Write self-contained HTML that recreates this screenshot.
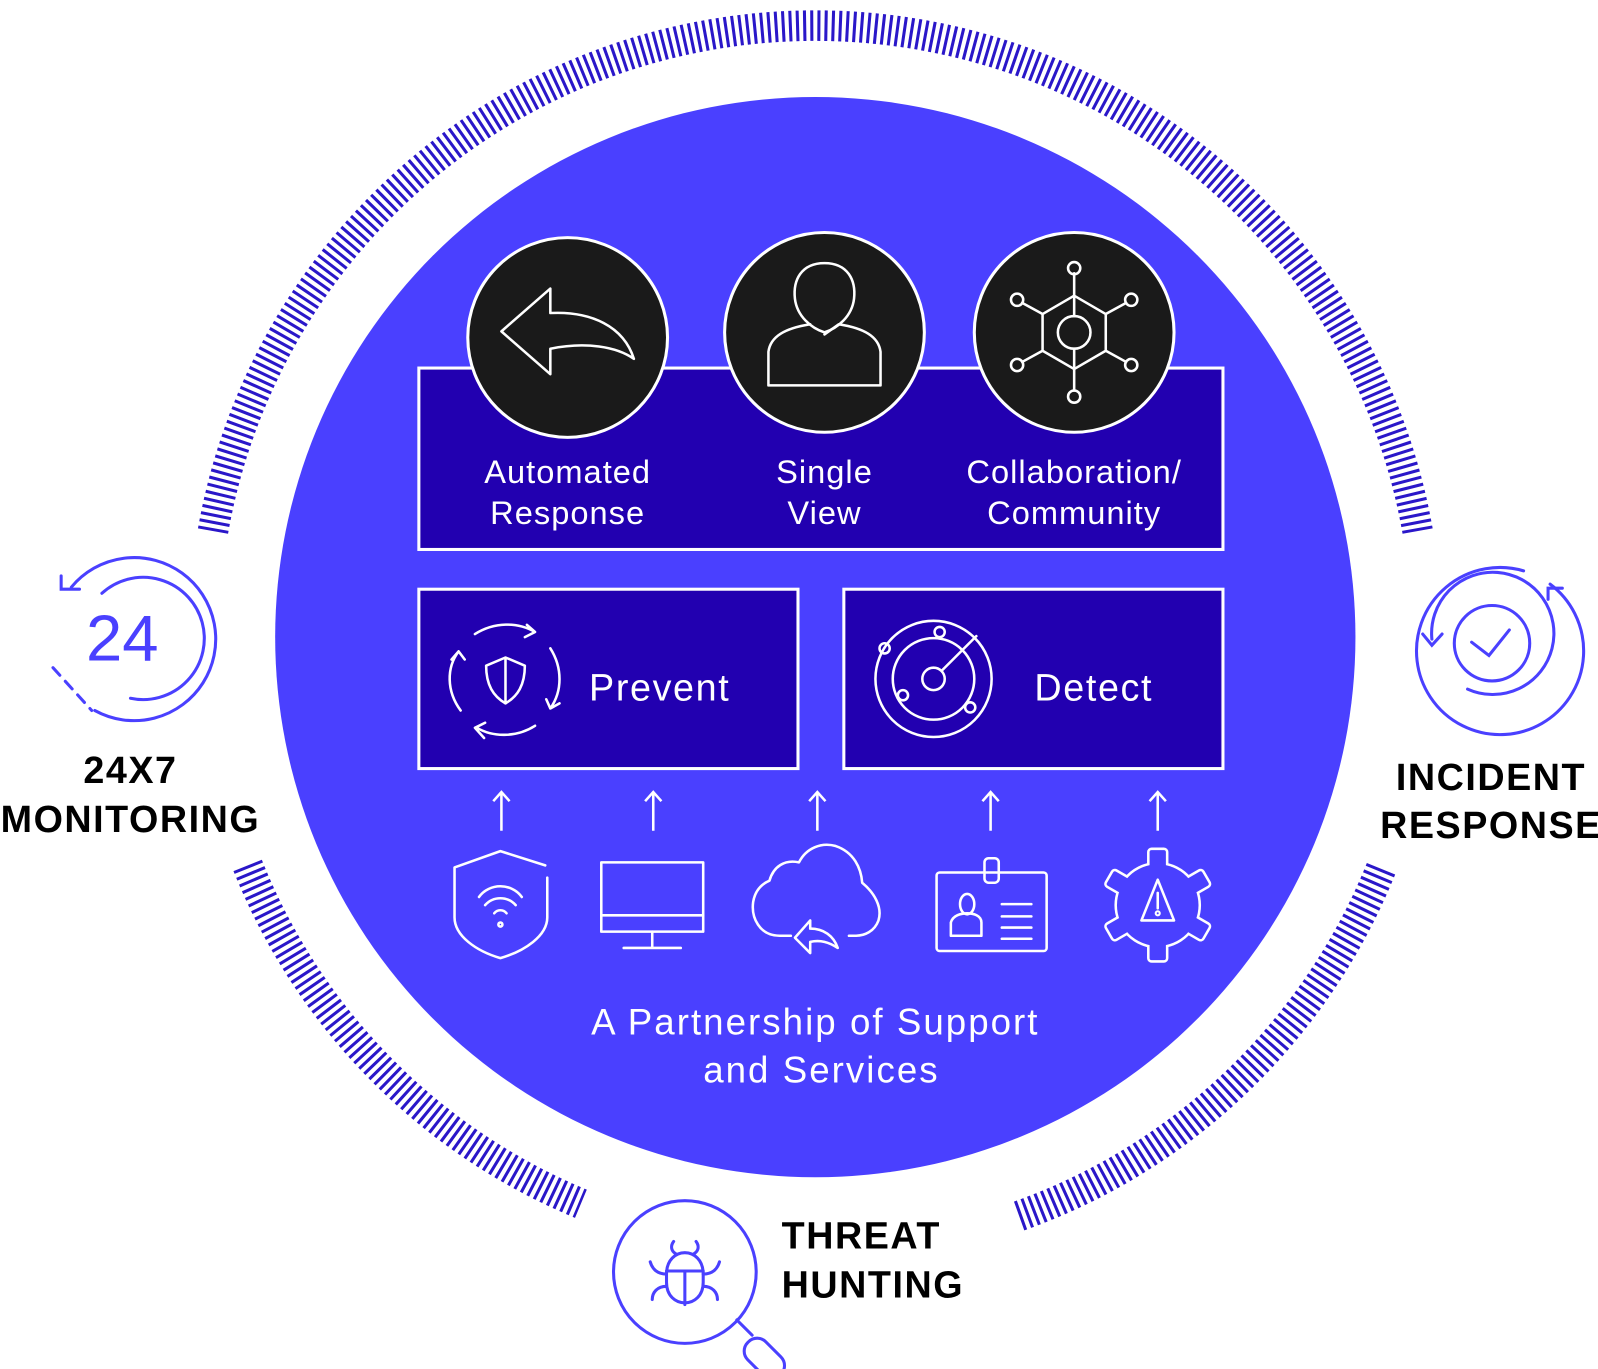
<!DOCTYPE html>
<html><head><meta charset="utf-8"><style>
html,body{margin:0;padding:0;background:#fff;width:1598px;height:1369px;overflow:hidden}
svg{display:block}
text{font-family:"Liberation Sans",sans-serif}
</style></head><body>
<svg width="1598" height="1369" viewBox="0 0 1568 1343" xmlns="http://www.w3.org/2000/svg">
<g fill="none" stroke="#2a17c9" stroke-width="30" stroke-dasharray="3 4">
<path d="M 209 521 A 600 600 0 0 1 800 25 A 600 600 0 0 1 1391 521"/>
<path d="M 243 849 A 600 600 0 0 0 570 1181"/>
<path d="M 1000 1193 A 600 600 0 0 0 1356 850"/>
</g>
<circle cx="800" cy="625" r="530" fill="#4a40ff"/>
<rect x="411" y="361" width="789" height="178" fill="#2200b0" stroke="#fff" stroke-width="3"/>
<g fill="#1a1a1a" stroke="#fff" stroke-width="3">
<circle cx="557" cy="331" r="98"/>
<circle cx="809" cy="326" r="98"/>
<circle cx="1054" cy="326" r="98"/>
</g>
<g fill="none" stroke="#fff" stroke-width="2.5" stroke-linejoin="round" stroke-linecap="round">
<path d="M492 325 L540 283 L540 307 C580 305 612 320 622 352 C605 340 575 335 540 342 L540 367 Z"/>
<path d="M809 258 C832 258 840 275 838 293 C836 310 822 322 809 326 C796 322 782 310 780 293 C778 275 786 258 809 258 Z"/>
<path d="M795 318 C770 322 756 330 754 345 L754 378 L864 378 L864 345 C862 330 848 322 823 318 L809 328"/>
<circle cx="1054" cy="326" r="16"/>
<path d="M1054 290 L1085 308 L1085 344 L1054 362 L1023 344 L1023 308 Z"/>
<path d="M1054 268 L1054 290 M1054 362 L1054 383 M1003 297 L1023 308 M1105 297 L1085 308 M1003 355 L1023 344 M1105 355 L1085 344 M1054 310 L1054 290 M1054 342 L1054 362"/>
<circle cx="1054" cy="263" r="6"/><circle cx="1054" cy="389" r="6"/>
<circle cx="998" cy="294" r="6"/><circle cx="1110" cy="294" r="6"/>
<circle cx="998" cy="358" r="6"/><circle cx="1110" cy="358" r="6"/>
</g>
<g fill="#fff" font-size="32" text-anchor="middle" letter-spacing="1">
<text x="557" y="474">Automated</text><text x="557" y="514">Response</text>
<text x="809" y="474">Single</text><text x="809" y="514">View</text>
<text x="1054" y="474">Collaboration/</text><text x="1054" y="514">Community</text>
</g>
<rect x="411" y="578" width="372" height="176" fill="#2200b0" stroke="#fff" stroke-width="3"/>
<rect x="828" y="578" width="372" height="176" fill="#2200b0" stroke="#fff" stroke-width="3"/>
<g fill="#fff" font-size="37" letter-spacing="1.6">
<text x="578" y="687">Prevent</text>
<text x="1015" y="687">Detect</text>
</g>
<g fill="none" stroke="#fff" stroke-width="2.5" stroke-linecap="round" stroke-linejoin="round">
<path d="M466 622 C485 610 508 610 525 620 M517 613 L525 620 L515 625"/>
<path d="M540 636 C552 655 552 678 540 695 M536 686 L540 695 L549 690"/>
<path d="M525 712 C506 724 483 723 468 714 M475 724 L466 714 L476 709"/>
<path d="M452 697 C438 678 438 655 450 639 M443 647 L450 639 L456 647"/>
<path d="M496 645 L515 653 C515 672 508 683 496 690 C484 683 477 672 477 653 Z M496 645 L496 690"/>
<circle cx="916" cy="666" r="57"/>
<circle cx="916" cy="666" r="40"/>
<circle cx="916" cy="666" r="11"/>
<path d="M924 658 L958 624"/>
<circle cx="922" cy="620" r="5"/><circle cx="868" cy="636" r="5"/>
<circle cx="886" cy="682" r="5"/><circle cx="952" cy="694" r="5"/>
</g>
<g fill="none" stroke="#fff" stroke-width="2.5">
<path d="M492 815 V777 M484 786 L492 777 L500 786"/>
<path d="M641 815 V777 M633 786 L641 777 L649 786"/>
<path d="M802 815 V777 M794 786 L802 777 L810 786"/>
<path d="M972 815 V777 M964 786 L972 777 L980 786"/>
<path d="M1136 815 V777 M1128 786 L1136 777 L1144 786"/>
</g>
<g fill="none" stroke="#fff" stroke-width="2.5" stroke-linecap="round" stroke-linejoin="round">
<path d="M537 861 L537 900 C537 918 515 933 491 940 C467 933 446 918 446 900 L446 851 L491 835 L535 849"/>
<path d="M470 880 C480 866 502 866 512 880 M476 888 C484 879 498 879 506 888 M485 896 C488 892 494 892 497 896"/>
<circle cx="491" cy="907" r="2"/>
<rect x="590" y="846" width="100" height="68"/><path d="M590 898 L690 898 M640 914 V930 M612 930 H668"/>
<path d="M776 918 H765 C745 918 737 900 739 885 C741 873 748 867 755 864 C759 850 770 843 784 846 C791 832 806 826 820 830 C838 836 845 852 846 866 C858 876 866 890 862 903 C858 914 848 918 840 918 H833"/>
<path d="M795 935 L780 920 L795 903 L795 911 C808 911 818 918 822 930 C813 924 805 922 795 924 Z"/>
<rect x="919" y="856" width="108" height="77" rx="3"/>
<rect x="966" y="842" width="14" height="24" rx="4"/>
<ellipse cx="949" cy="887" rx="7" ry="10"/>
<path d="M933 918 V905 C935 898 943 896 949 896 C955 896 963 898 963 905 V918 Z"/>
<path d="M983 887 H1012 M983 899 H1012 M983 910 H1012 M983 921 H1012"/>
</g>
<!-- gear: outline trick -->
<g transform="translate(1136 888)">
<g fill="#fff" stroke="#fff" stroke-width="5" stroke-linejoin="round">
<rect x="-8" y="-54" width="16" height="30" rx="2"/>
<rect x="-8" y="-54" width="16" height="30" rx="2" transform="rotate(60)"/>
<rect x="-8" y="-54" width="16" height="30" rx="2" transform="rotate(120)"/>
<rect x="-8" y="-54" width="16" height="30" rx="2" transform="rotate(180)"/>
<rect x="-8" y="-54" width="16" height="30" rx="2" transform="rotate(240)"/>
<rect x="-8" y="-54" width="16" height="30" rx="2" transform="rotate(300)"/>
<circle r="40"/>
</g>
<g fill="#4a40ff" stroke="none">
<rect x="-8" y="-54" width="16" height="30" rx="2"/>
<rect x="-8" y="-54" width="16" height="30" rx="2" transform="rotate(60)"/>
<rect x="-8" y="-54" width="16" height="30" rx="2" transform="rotate(120)"/>
<rect x="-8" y="-54" width="16" height="30" rx="2" transform="rotate(180)"/>
<rect x="-8" y="-54" width="16" height="30" rx="2" transform="rotate(240)"/>
<rect x="-8" y="-54" width="16" height="30" rx="2" transform="rotate(300)"/>
<circle r="40"/>
</g>
<path d="M0 -25 L-16 15 H16 Z M0 -12 V3" fill="none" stroke="#fff" stroke-width="2.5" stroke-linejoin="round" stroke-linecap="round"/>
<circle cx="0" cy="8" r="2" fill="none" stroke="#fff" stroke-width="2"/>
</g>
<g fill="#fff" font-size="36" text-anchor="middle" letter-spacing="2">
<text x="800" y="1015">A Partnership of Support</text>
<text x="806" y="1062">and Services</text>
</g>
<g fill="none" stroke="#4a40ff" stroke-width="3" stroke-linecap="round">
<path d="M70 576 A80 80 0 1 1 93 697"/>
<path d="M60 565 V578 H78"/>
<path d="M52 655 L90 697" stroke-dasharray="10 8"/>
<path d="M100 582 A60 60 0 1 1 128 685"/>
<circle cx="1464" cy="631" r="37"/>
<path d="M1444 630 L1461 643 L1481 618"/>
<path d="M1521 573 A82 82 0 1 1 1495 560"/>
<path d="M1519 588 V577 H1533"/>
<path d="M1405 627 A60 60 0 1 1 1440 676"/>
<path d="M1396 622 L1405 633 L1415 622"/>
<circle cx="672" cy="1248" r="70"/>
<path d="M723 1295 L738 1310"/>
<rect x="728" y="1320" width="45" height="25" rx="12" transform="rotate(45 750 1332)"/>
<path d="M654 1250 C654 1222 690 1222 690 1250 V1258 C690 1285 654 1285 654 1258 Z"/>
<path d="M654 1247 H690 M672 1247 V1280"/>
<path d="M663 1230 C658 1227 658 1222 661 1218 M681 1230 C686 1227 686 1222 683 1218"/>
<path d="M654 1250 C645 1250 640 1245 638 1238 M690 1250 C699 1250 704 1245 706 1238"/>
<path d="M654 1262 C645 1262 640 1268 640 1275 M690 1262 C699 1262 704 1268 704 1275"/>
</g>
<text x="120" y="648" fill="#4a40ff" font-size="64" text-anchor="middle">24</text>
<g fill="#000" font-size="37" font-weight="bold" text-anchor="middle" letter-spacing="1.5">
<text x="128" y="768">24X7</text><text x="128" y="816">MONITORING</text>
<text x="1463" y="775">INCIDENT</text><text x="1463" y="822">RESPONSE</text>
<text x="767" y="1225" text-anchor="start">THREAT</text><text x="767" y="1273" text-anchor="start">HUNTING</text>
</g>
</svg>
</body></html>
